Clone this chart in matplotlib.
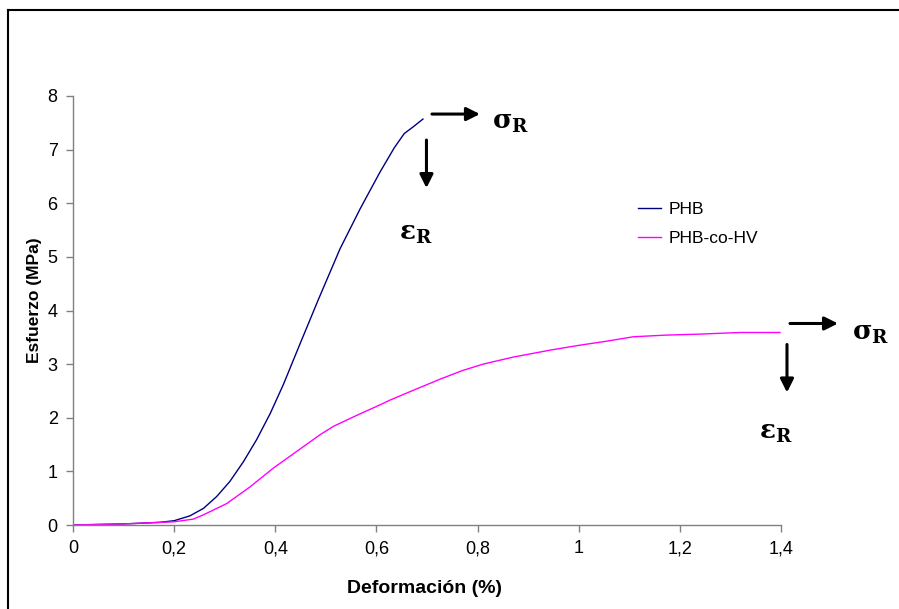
import matplotlib.pyplot as plt
from matplotlib.lines import Line2D
from matplotlib.transforms import offset_copy

# valores (deformacion %, esfuerzo MPa)
phb_x = [0.0, 0.05, 0.10, 0.15, 0.172, 0.20, 0.231, 0.258, 0.284, 0.310,
         0.337, 0.363, 0.390, 0.416, 0.449, 0.485, 0.528, 0.568, 0.607,
         0.635, 0.655, 0.672, 0.692]
phb_y = [0.0, 0.01, 0.02, 0.04, 0.05, 0.08, 0.17, 0.31, 0.53, 0.81,
         1.18, 1.59, 2.08, 2.62, 3.38, 4.20, 5.15, 5.90, 6.58,
         7.03, 7.30, 7.42, 7.57]

hv_x = [0.0, 0.05, 0.10, 0.15, 0.20, 0.238, 0.258, 0.304, 0.350, 0.396,
        0.442, 0.488, 0.515, 0.56, 0.607, 0.627, 0.68, 0.726, 0.77, 0.811,
        0.87, 0.943, 1.0, 1.05, 1.108, 1.17, 1.24, 1.32, 1.398]
hv_y = [0.0, 0.01, 0.02, 0.04, 0.06, 0.11, 0.19, 0.40, 0.71, 1.06,
        1.37, 1.68, 1.84, 2.04, 2.24, 2.33, 2.54, 2.72, 2.88, 3.00,
        3.13, 3.26, 3.35, 3.42, 3.51, 3.54, 3.56, 3.59, 3.59]

labels = ["PHB", "PHB-co-HV"]
colors = ["#000080", "#FF00FF"]

x_ticks = [0, 0.2, 0.4, 0.6, 0.8, 1.0, 1.2, 1.4]
x_ticklabels = ["0", "0,2", "0,4", "0,6", "0,8", "1", "1,2", "1,4"]
y_ticks = [0, 1, 2, 3, 4, 5, 6, 7, 8]

plt.rcParams['font.family'] = ['Liberation Sans', 'DejaVu Sans']
plt.rcParams['mathtext.fontset'] = 'dejavuserif'

fig = plt.figure(figsize=(8.99, 6.09), dpi=100)
ax = fig.add_axes([73 / 899, 84 / 609, 708 / 899, 429 / 609])

ax.plot(phb_x, phb_y, color=colors[0], lw=1.0, label=labels[0])
ax.plot(hv_x, hv_y, color=colors[1], lw=1.0, label=labels[1])

ax.set_xlim(0, 1.4)
ax.set_ylim(0, 8)
ax.set_xticks(x_ticks)
ax.set_xticklabels(x_ticklabels)
ax.set_yticks(y_ticks)
ax.tick_params(labelsize=13, length=5, width=1, color="#808080", pad=6)

for s in ["top", "right"]:
    ax.spines[s].set_visible(False)
for s in ["left", "bottom"]:
    ax.spines[s].set_color("#808080")
    ax.spines[s].set_linewidth(1.0)

ax.set_xlabel("Deformación (%)", fontsize=14, fontweight="bold")
ax.set_ylabel("Esfuerzo (MPa)", fontsize=12.5, fontweight="bold")
ax.xaxis.set_label_coords(0.497, -0.128)
ax.yaxis.set_label_coords(-0.044, 0.524)

ax.legend(loc="upper left", bbox_to_anchor=(0.776, 0.79), frameon=False,
          fontsize=12.5, handlelength=1.3, handletextpad=0.45, labelspacing=0.8)

# flechas de ruptura (sigma_R, epsilon_R) al final de cada curva
arrow_kw = dict(arrowstyle="-|>", color="black", lw=2.2, mutation_scale=20,
                shrinkA=0, shrinkB=0)
ends = [(phb_x[-1], phb_y[-1]), (hv_x[-1], hv_y[-1])]
h_off = [(9, 5), (10, 9)]        # inicio de la flecha horizontal (px)
v_off = [(3.5, -21), (7, -12)]   # inicio de la flecha vertical (px)
sig_off = [(88, -3), (91, -1)]
eps_off = [(-7, -114), (-4, -100)]
arrow_len = 48


def px(dx, dy):
    return offset_copy(ax.transData, fig=fig, x=dx, y=dy, units='dots')


for (ex, ey), ho, vo, so, eo in zip(ends, h_off, v_off, sig_off, eps_off):
    ax.annotate("", xy=(ex, ey), xycoords=px(ho[0] + arrow_len, ho[1]),
                xytext=(ex, ey), textcoords=px(ho[0], ho[1]),
                arrowprops=arrow_kw, annotation_clip=False)
    ax.annotate("", xy=(ex, ey), xycoords=px(vo[0], vo[1] - arrow_len),
                xytext=(ex, ey), textcoords=px(vo[0], vo[1]),
                arrowprops=arrow_kw, annotation_clip=False)
    ax.text(ex, ey, r"σ$_{\mathbf{R}}$", transform=px(*so),
            ha="center", va="center", fontsize=19, fontweight="bold",
            family="DejaVu Serif", clip_on=False)
    ax.text(ex, ey, r"ε$_{\mathbf{R}}$", transform=px(*eo),
            ha="center", va="center", fontsize=19, fontweight="bold",
            family="DejaVu Serif", clip_on=False)

# marco exterior (solo se ven los bordes izquierdo y superior)
fig.add_artist(Line2D([8 / 899, 8 / 899], [0, 1 - 10 / 609], color="black", lw=1.5))
fig.add_artist(Line2D([8 / 899, 1], [1 - 10 / 609, 1 - 10 / 609], color="black", lw=1.5))

fig.savefig("out.png", dpi=100)
